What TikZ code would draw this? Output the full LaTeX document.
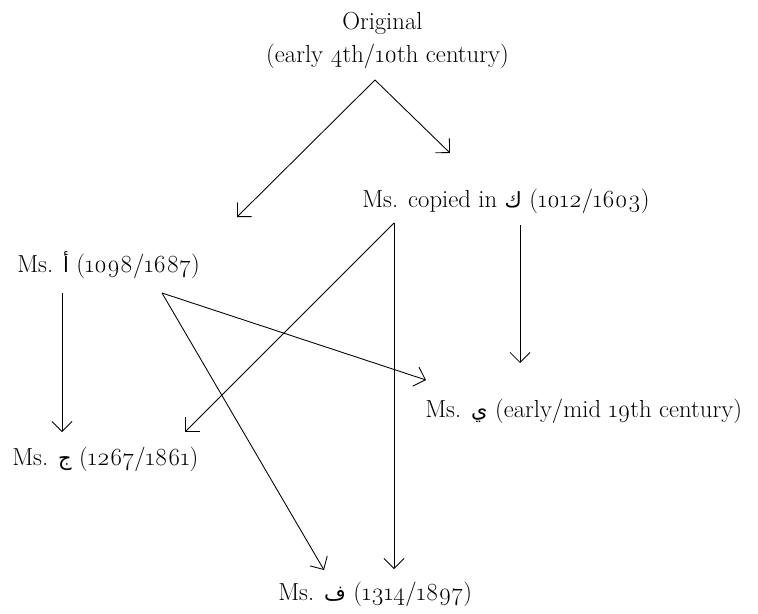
\documentclass[tikz,border=0pt]{standalone}
\usepackage{fontspec}
\setmainfont{Latin Modern Roman}[Numbers=OldStyle]
\newfontfamily\arabicfont[Script=Arabic,Scale=0.85]{DejaVu Sans}
\TeXXeTstate=1
\usetikzlibrary{arrows.meta}
\newcommand{\ar}[1]{{\arabicfont\beginR #1\endR}}
\tikzset{
  mstext/.style={font=\fontsize{18.5}{22}\selectfont, inner sep=0pt},
  descent/.style={-{Straight Barb[length=7.5pt,width=15pt]}, line width=0.65pt}
}

\begin{document}
\begin{tikzpicture}[x=0.75pt,y=-0.75pt]
  \useasboundingbox (0,0) rectangle (758,614);

  % Manuscripts
  \node[mstext, anchor=base west] (orig) at (342,30) {Original};
  \node[mstext, anchor=base east] (origdate) at (509,62) {(early 4th/10th century)};
  \node[mstext, anchor=base west] (mskaf) at (362,207) {Ms. copied in \ar{ك} (1012/1603)};
  \node[mstext, anchor=base west] (msalif) at (17,272) {Ms. \ar{أ} (1098/1687)};
  \node[mstext, anchor=base west] (msya) at (425,417) {Ms. \ar{ي} (early/mid 19th century)};
  \node[mstext, anchor=base west] (msjim) at (12,465) {Ms. \ar{ج} (1267/1861)};
  \node[mstext, anchor=base west] (msfa) at (278,600) {Ms. \ar{ف} (1314/1897)};

  % Branch points and arrow ends
  \coordinate (origfork) at (375,80);
  \coordinate (toalif) at (237,217);
  \coordinate (tokaf) at (450,153);
  \coordinate (kaffork) at (394,223);
  \coordinate (kafright) at (520,225);
  \coordinate (aliffork) at (162,293);
  \coordinate (alifleft) at (62,293);
  \coordinate (jimfromkaf) at (185,432);
  \coordinate (jimfromalif) at (62,432);
  \coordinate (fafromkaf) at (394,569);
  \coordinate (fafromalif) at (324,570);
  \coordinate (yafromkaf) at (520,363);
  \coordinate (yafromalif) at (426,380);

  % Descent
  \draw[descent] (origfork) -- (toalif);
  \draw[descent] (origfork) -- (tokaf);
  \draw[descent] (kaffork) -- (jimfromkaf);
  \draw[descent] (kaffork) -- (fafromkaf);
  \draw[descent] (kafright) -- (yafromkaf);
  \draw[descent] (aliffork) -- (yafromalif);
  \draw[descent] (aliffork) -- (fafromalif);
  \draw[descent] (alifleft) -- (jimfromalif);
\end{tikzpicture}
\end{document}
